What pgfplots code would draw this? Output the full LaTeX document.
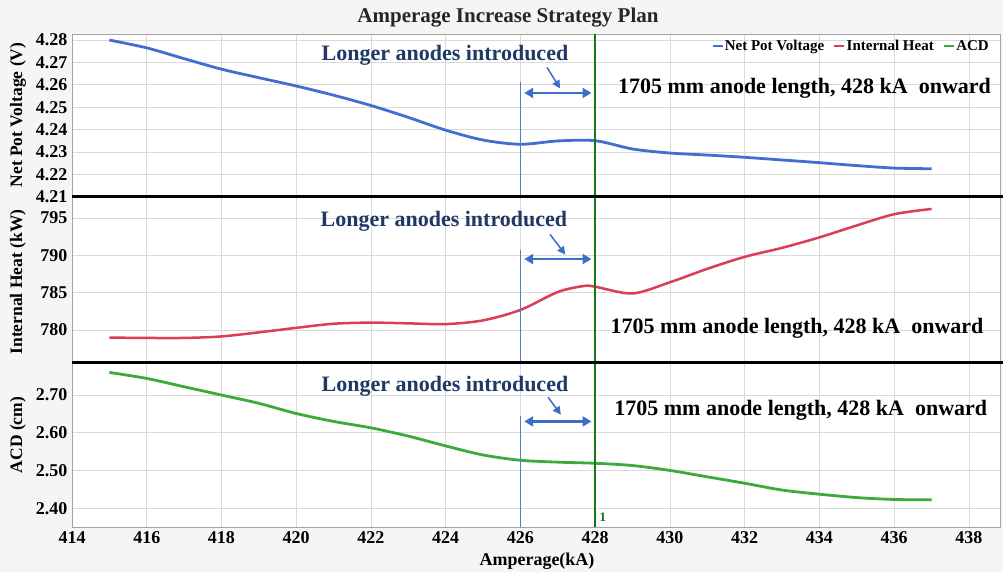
\documentclass[border=0pt]{standalone}
\usepackage{pgfplots}
\pgfplotsset{compat=1.18}
\usepackage{fontspec}
\setmainfont{Liberation Serif}
\usetikzlibrary{arrows.meta}

\definecolor{blueline}{RGB}{66,110,210}
\definecolor{redline}{RGB}{220,60,85}
\definecolor{greenline}{RGB}{60,170,60}
\definecolor{dgreen}{RGB}{20,120,20}
\definecolor{vblue}{RGB}{80,125,200}
\definecolor{arrowc}{RGB}{60,110,200}
\definecolor{navy}{RGB}{31,56,100}
\definecolor{gridc}{RGB}{218,218,218}
\definecolor{bgc}{RGB}{245,245,245}

\pgfplotsset{panel/.style={
  scale only axis, width=928pt, xmin=414, xmax=438.83,
  xtick={414,416,...,438},
  grid=major, major grid style={gridc, line width=0.8pt},
  axis line style={gridc!75!black, line width=0.8pt},
  axis background/.style={fill=white},
  tick style={draw=none},
  /pgf/number format/assume math mode=true,
  tick label style={font=\fontsize{18}{18}\selectfont\bfseries},
  yticklabel style={xshift=-1pt},
}}
\newcommand{\anno}{\fontsize{22}{24}\selectfont\bfseries}
\tikzset{dbl/.style={arrowc, line width=2.2pt, {Triangle[length=9pt,width=10pt]}-{Triangle[length=9pt,width=10pt]}},
  ptr/.style={arrowc, line width=1.5pt, -{Triangle[length=8pt,width=8pt]}}}

\begin{document}
\begin{tikzpicture}
\useasboundingbox (0,0) rectangle (1003pt,572pt);
\fill[bgc] (0,0) rectangle (1003pt,572pt);

% ---------- bottom panel: ACD ----------
\begin{axis}[panel, at={(72pt,45pt)}, anchor=south west, height=164pt,
  ymin=2.35, ymax=2.785, ytick={2.4,2.5,2.6,2.7},
  yticklabel style={/pgf/number format/.cd, fixed, fixed zerofill, precision=2},
  xticklabel style={yshift=-1pt}]
\addplot[greenline, line width=2.8pt, smooth, tension=0.5] coordinates {
(415,2.760) (416,2.744) (417,2.722) (418,2.700) (419,2.678) (420,2.651)
(421,2.630) (422,2.613) (423,2.591) (424,2.565) (425,2.541) (426,2.527)
(427,2.522) (428,2.519) (429,2.513) (430,2.500) (431,2.483) (432,2.466)
(433,2.448) (434,2.437) (435,2.428) (436,2.423) (437,2.422)};
\draw[vblue, line width=1.3pt] (axis cs:426,2.645) -- (axis cs:426,2.35);
\draw[dgreen, line width=2.2pt] (axis cs:428,2.785) -- (axis cs:428,2.35);
\draw[dbl] (axis cs:426.1,2.630) -- (axis cs:427.9,2.630);
\draw[ptr] (axis cs:426.74,2.694) -- (axis cs:427.08,2.648);
\node[navy, font=\anno] at (axis cs:423.98,2.724) {Longer anodes introduced};
\node[black, font=\anno] at (axis cs:433.5,2.660) {1705 mm anode length, 428 kA\ \ onward};
\node[dgreen, font=\fontsize{13}{13}\selectfont\bfseries, anchor=west] at (axis cs:428.02,2.375) {1};
\end{axis}

% ---------- middle panel: Internal Heat ----------
\begin{axis}[panel, at={(72pt,209pt)}, anchor=south west, height=166pt,
  ymin=775.6, ymax=797.8, ytick={780,785,790,795}, xticklabels={}]
\addplot[redline, line width=2.5pt, smooth, tension=0.5] coordinates {
(415,779.0) (416,778.95) (417,778.95) (418,779.15) (419,779.7) (420,780.3)
(421,780.85) (422,781.0) (423,780.9) (424,780.8) (425,781.3) (426,782.7)
(427,785.1) (427.7,785.9) (428,785.8) (429,784.9) (430,786.4) (431,788.2)
(432,789.8) (433,791.0) (434,792.4) (435,794.0) (436,795.5) (437,796.2)};
\draw[vblue, line width=1.3pt] (axis cs:426,790.7) -- (axis cs:426,775.6);
\draw[dgreen, line width=2.2pt] (axis cs:428,797.8) -- (axis cs:428,775.6);
\draw[dbl] (axis cs:426.1,789.5) -- (axis cs:427.9,789.5);
\draw[ptr] (axis cs:426.79,792.8) -- (axis cs:427.2,790.1);
\node[navy, font=\anno] at (axis cs:423.95,794.5) {Longer anodes introduced};
\node[black, font=\anno] at (axis cs:433.4,780.3) {1705 mm anode length, 428 kA\ \ onward};
\end{axis}

% ---------- top panel: Net Pot Voltage ----------
\begin{axis}[panel, at={(72pt,375pt)}, anchor=south west, height=163pt,
  ymin=4.21, ymax=4.2827, ytick={4.21,4.22,4.23,4.24,4.25,4.26,4.27,4.28},
  yticklabel style={/pgf/number format/.cd, fixed, fixed zerofill, precision=2},
  xticklabels={},
  legend style={at={(rel axis cs:1,1)}, anchor=north east, xshift=-10pt, yshift=-5pt,
    draw=none, fill=none, legend columns=3,
    font=\fontsize{15}{16}\selectfont\bfseries,
    /tikz/every even column/.append style={column sep=8pt},
    inner sep=0pt, nodes={inner sep=1pt}},
  legend image code/.code={\draw[#1, line width=2.5pt] (0pt,0pt) -- (10pt,0pt);}]
\addplot[blueline, line width=2.8pt, smooth, tension=0.5] coordinates {
(415,4.2800) (416,4.2765) (417,4.2717) (418,4.2670) (419,4.2632) (420,4.2595)
(421,4.2554) (422,4.2508) (423,4.2455) (424,4.2398) (425,4.2354) (426,4.2335)
(427,4.2350) (428,4.2351) (429,4.2314) (430,4.2296) (431,4.2287) (432,4.2277)
(433,4.2265) (434,4.2253) (435,4.2240) (436,4.2229) (437,4.2226)};
\addlegendentry{Net Pot Voltage}
\addlegendimage{redline}
\addlegendentry{Internal Heat}
\addlegendimage{greenline}
\addlegendentry{ACD}
\draw[vblue, line width=1.3pt] (axis cs:426,4.2613) -- (axis cs:426,4.21);
\draw[dgreen, line width=2.2pt] (axis cs:428,4.2827) -- (axis cs:428,4.21);
\draw[dbl] (axis cs:426.1,4.2564) -- (axis cs:427.9,4.2564);
\draw[ptr] (axis cs:426.71,4.2678) -- (axis cs:427.06,4.2584);
\node[navy, font=\anno] at (axis cs:423.98,4.2733) {Longer anodes introduced};
\node[black, font=\anno] at (axis cs:433.6,4.2585) {1705 mm anode length, 428 kA\ \ onward};
\end{axis}

% separators
\draw[black, line width=3pt] (72pt,375pt) -- (1003pt,375pt);
\draw[black, line width=3pt] (72pt,209pt) -- (1003pt,209pt);

% labels and title
\node[font=\fontsize{21}{23}\selectfont\bfseries, text=black!85] at (508pt,554pt) {Amperage Increase Strategy Plan};
\node[rotate=90, font=\fontsize{17.5}{18}\selectfont\bfseries] at (18pt,457pt) {Net Pot Voltage (V)};
\node[rotate=90, font=\fontsize{17.5}{18}\selectfont\bfseries] at (18pt,290pt) {Internal Heat (kW)};
\node[rotate=90, font=\fontsize{17.5}{18}\selectfont\bfseries] at (18pt,137pt) {ACD (cm)};
\node[font=\fontsize{18}{19}\selectfont\bfseries] at (537pt,11pt) {Amperage(kA)};
\end{tikzpicture}
\end{document}
